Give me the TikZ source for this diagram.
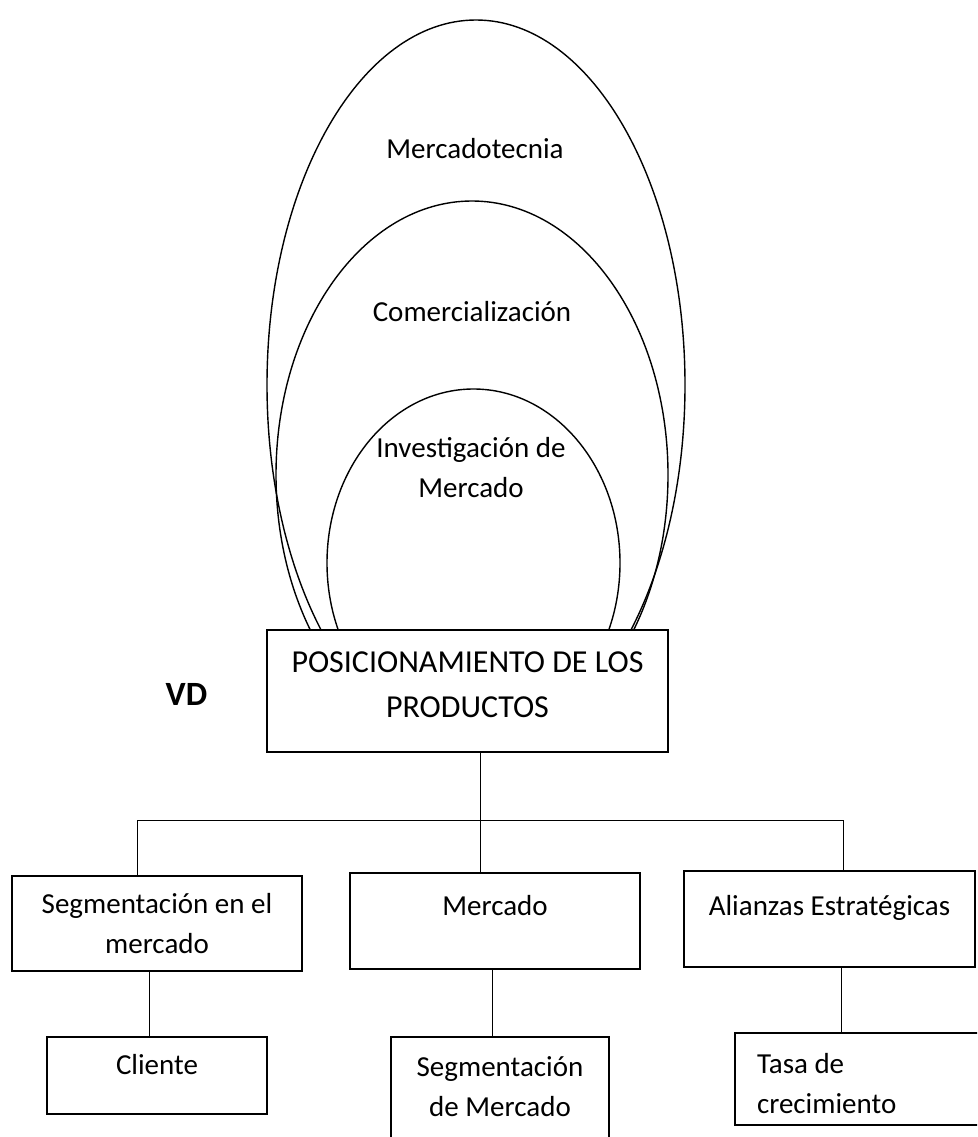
\documentclass[tikz,border=0pt]{standalone}
\usepackage{fontspec}
\setmainfont{Carlito}
\usetikzlibrary{shapes.geometric, positioning}

\begin{document}
\begin{tikzpicture}[
    x=1pt, y=-1pt,
    oval/.style={ellipse, draw, line width=1.4pt, inner sep=0pt},
    ovaltext/.style={anchor=base, align=center, font=\fontsize{29}{40}\selectfont},
    mainbox/.style={rectangle, draw, fill=white, line width=1.4pt, inner sep=0pt, align=center, font=\fontsize{32}{45}\selectfont},
    catbox/.style={rectangle, draw, fill=white, line width=2.6pt, inner sep=0pt, align=center, font=\fontsize{29}{40}\selectfont},
    itembox/.style={rectangle, draw, fill=white, line width=2pt, inner sep=0pt, align=center, font=\fontsize{29}{40}\selectfont},
    link/.style={line width=1pt}
]
    \useasboundingbox (0,0) rectangle (977,1137);
    \clip (0,0) rectangle (977,1137);

    % ovals behind the central box
    \node[oval, minimum width=418pt, minimum height=730pt] (mkt) at (476,385) {};
    \node[oval, minimum width=392pt, minimum height=548pt] (com) at (472,475) {};
    \node[oval, minimum width=293pt, minimum height=348pt] (inv) at (473.5,563) {};
    \node[ovaltext] (mktlbl) at (475,158) {Mercadotecnia};
    \node[ovaltext] (comlbl) at (472,321) {Comercialización};
    \node[ovaltext] (invlbl) at (471,497) {Investigación de\\Mercado};

    \node[mainbox, minimum width=401pt, minimum height=122pt, text depth=13pt] (pos) at (467.5,691) {POSICIONAMIENTO DE LOS\\PRODUCTOS};
    \node[anchor=base, font=\fontsize{34}{40}\selectfont\bfseries] (vd) at (186.5,705) {VD};

    \node[catbox, minimum width=290pt, minimum height=95pt] (seg) at (157,923.5) {Segmentación en el\\mercado};
    \node[catbox, minimum width=290pt, minimum height=96pt, text depth=31pt] (merc) at (495,921) {Mercado};
    \node[catbox, minimum width=291pt, minimum height=96pt, text depth=27pt] (ali) at (829.5,919) {Alianzas Estratégicas};

    \node[itembox, below=64pt of seg, minimum width=220pt, minimum height=77pt, text depth=22pt] (cli) {Cliente};
    \node[itembox, below=66pt of merc, xshift=5pt, minimum width=218pt, minimum height=110pt, text depth=12pt] (segm) {Segmentación\\de Mercado};
    \node[itembox, below=64pt of ali, xshift=30.5pt, text width=206pt, inner xsep=22pt, minimum height=92pt, text height=28pt, align=flush left] (tasa) {Tasa de\\crecimiento};

    \coordinate (busl) at (137,820);
    \coordinate (busr) at (843,820);
    \draw[link] (busl) -- (busr);
    \draw[link] ([xshift=12.5pt]pos.south) -- ([xshift=12.5pt]pos.south |- merc.north);
    \draw[link] (busl) -- (busl |- seg.north);
    \draw[link] (busr) -- (busr |- ali.north);
    \draw[link] ([xshift=-8pt]seg.south) -- ([xshift=-8pt]seg.south |- cli.north);
    \draw[link] ([xshift=-3pt]merc.south) -- ([xshift=-3pt]merc.south |- segm.north);
    \draw[link] ([xshift=11.5pt]ali.south) -- ([xshift=11.5pt]ali.south |- tasa.north);
\end{tikzpicture}
\end{document}
